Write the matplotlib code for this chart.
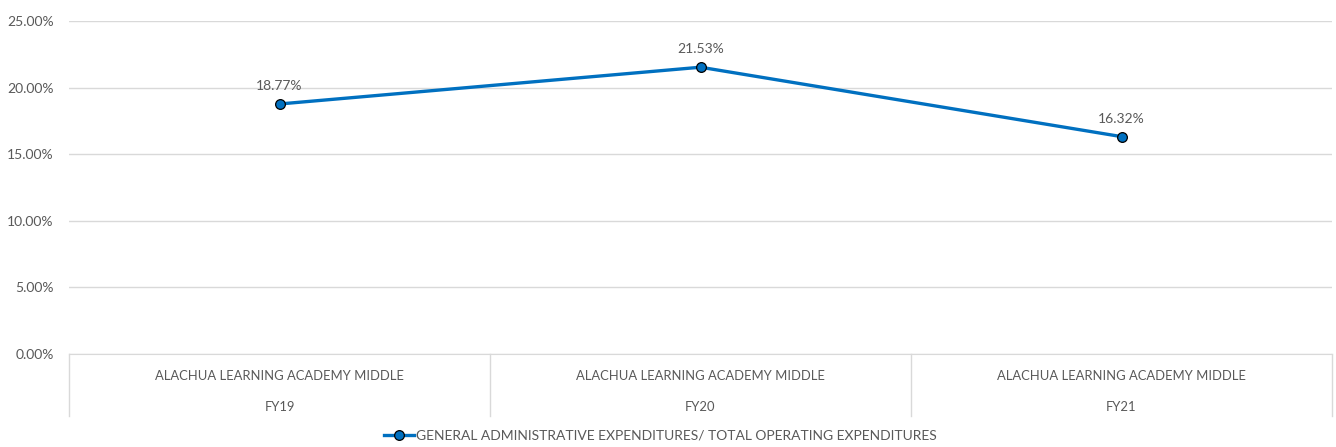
import matplotlib.pyplot as plt
from matplotlib.transforms import blended_transform_factory

school = "ALACHUA LEARNING ACADEMY MIDDLE"
years = ["FY19", "FY20", "FY21"]
values = [18.77, 21.53, 16.32]
series_name = "GENERAL ADMINISTRATIVE EXPENDITURES/ TOTAL OPERATING EXPENDITURES"

plt.rcParams['font.family'] = ['Lato', 'DejaVu Sans']
txt = '#595959'

fig = plt.figure(figsize=(13.36, 4.47), dpi=100)
ax = fig.add_axes([69/1336, (447-354)/447, (1332-69)/1336, (354-21)/447])

x = list(range(len(years)))
line, = ax.plot(x, values, color='#0070C0', lw=2.4, marker='o', ms=7,
                mfc='#0070C0', mec='black', mew=0.9, zorder=3, label=series_name)
for xi, v in zip(x, values):
    ax.annotate(f"{v:.2f}%", (xi, v), xytext=(0, 13), textcoords='offset points',
                ha='center', va='center', fontsize=10, color=txt)

ax.set_xlim(-0.5, len(years) - 0.5)
ax.set_ylim(0, 25)
ax.set_yticks([0, 5, 10, 15, 20, 25])
ax.set_yticklabels([f"{t:.2f}%" for t in [0, 5, 10, 15, 20, 25]], fontsize=10, color=txt)
ax.tick_params(axis='y', length=0, pad=11)
ax.set_xticks([])
ax.grid(axis='y', color='#D9D9D9', lw=1)
ax.set_axisbelow(True)
for s in ['top', 'right', 'left']:
    ax.spines[s].set_visible(False)
ax.spines['bottom'].set_color('#D9D9D9')

trans = blended_transform_factory(ax.transData, ax.transAxes)
for b in [-0.5 + i for i in range(len(years) + 1)]:
    ax.plot([b, b], [0, -0.186], transform=trans, color='#D9D9D9', lw=1, clip_on=False)
for xi, yr in zip(x, years):
    ax.text(xi, -0.066, school, transform=trans, ha='center', va='center', fontsize=9.4, color=txt)
    ax.text(xi, -0.16, yr, transform=trans, ha='center', va='center', fontsize=9.4, color=txt)

fig.legend(handles=[line], loc='center', bbox_to_anchor=(660/1336, 11/447), frameon=False,
           fontsize=10, labelcolor=txt, handlelength=2.2, handletextpad=0.1)

fig.savefig('out.png', dpi=100)
